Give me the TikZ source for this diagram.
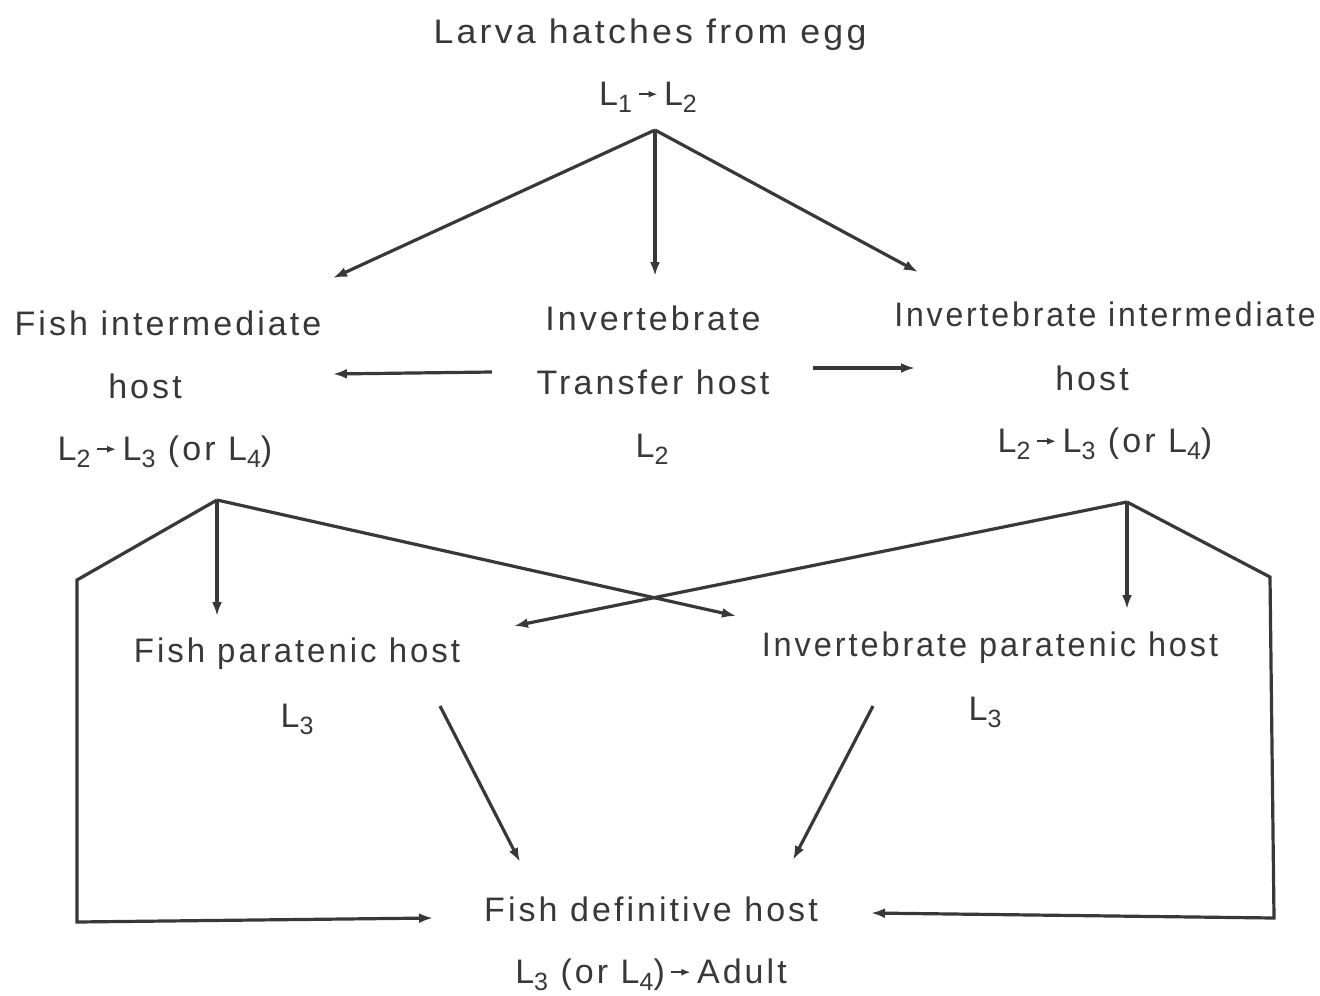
\documentclass[tikz,border=0pt]{standalone}
\usepackage{fontspec}
\setmainfont[LetterSpace=9]{Liberation Sans}
\usetikzlibrary{arrows.meta}
\definecolor{ink}{rgb}{0.22,0.22,0.22}
\newcommand\lsub[1]{\raisebox{-0.42ex}{\fontsize{25}{26}\selectfont #1}}
\newcommand\smallarr{\tikz[baseline=-0.1ex]{\draw[ink,line width=1.8pt,-{Latex[length=9pt,width=7pt]}] (0pt,9pt) -- (19pt,9pt);}}
\newcommand\hs[2]{\scalebox{#1}[1]{#2}}
\tikzset{
  lbl/.style={anchor=base,inner sep=0pt,text=ink,font=\fontsize{34}{40}\selectfont},
  conn/.style={draw=ink,line width=3.2pt,line join=miter,-{Latex[length=14pt,width=10pt]}},
}
\begin{document}
\begin{tikzpicture}[x=1pt,y=-1pt]
\useasboundingbox (0,0) rectangle (1320,996);
% texts
\node[lbl] (egg) at (650,43) {\hs{1.05}{Larva hatches from egg}};
\node[lbl] (eggL) at (648,105) {L\lsub{1}\,\smallarr\,L\lsub{2}};
\node[lbl] (fi1) at (168,335) {Fish intermediate};
\node[lbl] (fi2) at (145,398) {host};
\node[lbl] (fi3) at (165,460) {L\lsub{2}\,\smallarr\,L\lsub{3} (or L\lsub{4})};
\node[lbl] (it1) at (653,330) {Invertebrate};
\node[lbl] (it2) at (653,394) {Transfer host};
\node[lbl] (it3) at (652,457) {L\lsub{2}};
\node[lbl] (ii1) at (1105,326) {\hs{0.94}{Invertebrate intermediate}};
\node[lbl] (ii2) at (1092,390) {host};
\node[lbl] (ii3) at (1105,452) {L\lsub{2}\,\smallarr\,L\lsub{3} (or L\lsub{4})};
\node[lbl] (fp1) at (297,662) {\hs{0.97}{Fish paratenic host}};
\node[lbl] (fp2) at (297,727) {L\lsub{3}};
\node[lbl] (ip1) at (990,656) {\hs{0.955}{Invertebrate paratenic host}};
\node[lbl] (ip2) at (985,720) {L\lsub{3}};
\node[lbl] (fd1) at (651,921) {Fish definitive host};
\node[lbl] (fd2) at (651,983) {L\lsub{3} (or L\lsub{4})\,\smallarr\,Adult};
% coordinates
\coordinate (top) at (655,130);
\coordinate (topL) at (333,278);
\coordinate (topM) at (655,276);
\coordinate (topR) at (918,272);
\coordinate (trL0) at (492,372);
\coordinate (trL1) at (333,374);
\coordinate (trR0) at (813,368);
\coordinate (trR1) at (915,368);
\coordinate (apL) at (217,500);
\coordinate (apLd) at (217,616);
\coordinate (apLx) at (736,616);
\coordinate (bL1) at (77,580);
\coordinate (bL2) at (77,922);
\coordinate (bL3) at (433,918);
\coordinate (apR) at (1127,502);
\coordinate (apRd) at (1127,609);
\coordinate (apRx) at (514,626);
\coordinate (bR1) at (1270,577);
\coordinate (bR2) at (1274,918);
\coordinate (bR3) at (871,913);
\coordinate (pL0) at (440,706);
\coordinate (pL1) at (520,862);
\coordinate (pR0) at (873,706);
\coordinate (pR1) at (793,860);
% connectors
\draw[conn] (top) -- (topL);
\draw[conn] (top) -- (topM);
\draw[conn] (top) -- (topR);
\draw[conn] (trL0) -- (trL1);
\draw[conn] (trR0) -- (trR1);
\draw[conn] (apL) -- (apLd);
\draw[conn] (apL) -- (apLx);
\draw[conn] (apL) -- (bL1) -- (bL2) -- (bL3);
\draw[conn] (apR) -- (apRd);
\draw[conn] (apR) -- (apRx);
\draw[conn] (apR) -- (bR1) -- (bR2) -- (bR3);
\draw[conn] (pL0) -- (pL1);
\draw[conn] (pR0) -- (pR1);
\end{tikzpicture}
\end{document}
